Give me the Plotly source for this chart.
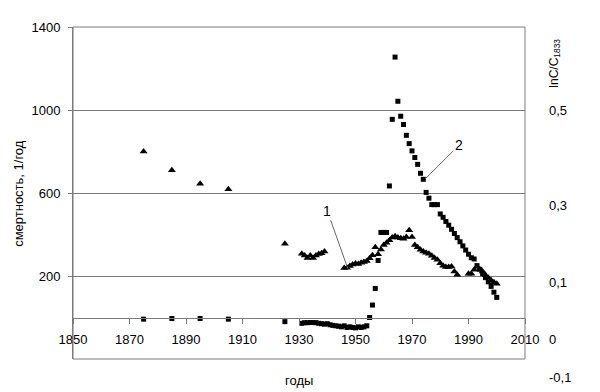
import plotly.graph_objects as go

# Series 1 (triangles)
years_1 = [1875, 1885, 1895, 1905, 1925,
           1931, 1932, 1933, 1934, 1935, 1936, 1937, 1938, 1939,
           1946, 1947, 1948, 1949, 1950, 1951, 1952, 1953, 1954, 1955, 1956, 1957, 1958, 1959,
           1960, 1961, 1962, 1963, 1964, 1965, 1966, 1967, 1968, 1969, 1970, 1971, 1972, 1973,
           1974, 1975, 1976, 1977, 1978, 1979, 1980, 1981, 1982, 1983, 1984, 1985, 1986,
           1990, 1991, 1992, 1993, 1994, 1995, 1996, 1997, 1998, 1999, 2000]
values_1 = [800, 710, 645, 618, 355,
            307, 299, 287, 299, 287, 299, 306, 310, 318,
            238, 240, 248, 255, 260, 258, 264, 268, 272, 285, 300, 338, 305, 328,
            350, 360, 372, 385, 392, 385, 382, 380, 388, 420, 388, 350, 339, 326,
            318, 312, 307, 298, 287, 278, 262, 250, 243, 243, 246, 222, 206,
            211, 211, 230, 245, 232, 222, 205, 192, 180, 170, 163]

# Series 2 (squares)
years_2 = [1875, 1885, 1895, 1905, 1925,
           1931, 1932, 1933, 1934, 1935, 1936, 1937, 1938, 1939, 1940, 1941, 1942, 1943, 1944,
           1945, 1946, 1947, 1948, 1949, 1950, 1951, 1952, 1953, 1954,
           1955, 1956, 1957, 1958, 1959, 1960, 1961, 1962, 1963, 1964, 1965, 1966, 1967, 1968,
           1969, 1970, 1971, 1972, 1973, 1974, 1975, 1976, 1977, 1978, 1979, 1980, 1981, 1982,
           1983, 1984, 1985, 1986, 1987, 1988, 1989, 1990, 1991, 1992, 1993, 1994, 1995, 1996,
           1997, 1998, 1999, 2000]
values_2 = [-8, -5, -5, -8, -20,
            -28, -25, -25, -24, -24, -25, -28, -30, -32, -30, -35, -38, -40, -42,
            -45, -40, -48, -45, -48, -50, -45, -48, -45, -40,
            0, 60, 140, 275, 410, 410, 410, 634, 955, 1255, 1042, 970, 930, 878,
            838, 803, 771, 738, 695, 666, 603, 575, 544, 544, 544, 499, 483, 463,
            445, 425, 405, 385, 365, 345, 325, 305, 288, 282, 250, 232, 212, 192,
            172, 150, 122, 97]

left_tick_vals = [200, 600, 1000, 1400]
x_tick_vals = [1850, 1870, 1890, 1910, 1930, 1950, 1970, 1990, 2010]
right_tick_labels = ["0,5", "0,3", "0,1", "0", "-0,1"]
right_tick_paper_y = [0.75, 0.461, 0.229, 0.060, -0.057]

FONT = "Liberation Sans, Arial, sans-serif"
GRID = "#7a7a7a"

fig = go.Figure()
fig.add_trace(go.Scatter(x=years_1, y=values_1, mode="markers",
                         marker=dict(symbol="triangle-up", size=7, color="black"),
                         showlegend=False))
fig.add_trace(go.Scatter(x=years_2, y=values_2, mode="markers",
                         marker=dict(symbol="square", size=5, color="black"),
                         showlegend=False))

fig.update_layout(
    width=600, height=392,
    margin=dict(l=73, r=75, t=27, b=33),
    paper_bgcolor="white", plot_bgcolor="white",
    font=dict(family=FONT, size=13, color="black"),
    xaxis=dict(range=[1850, 2010], tickvals=x_tick_vals, ticks="outside", ticklen=5,
               tickcolor=GRID, showgrid=False, zeroline=False, showline=True,
               linecolor=GRID, linewidth=1, anchor="free", position=(359 - 318) / 332,
               ticklabelstandoff=4, tickfont=dict(size=13)),
    yaxis=dict(range=[-200, 1400], tickvals=left_tick_vals, ticks="outside", ticklen=4,
               tickcolor=GRID, showgrid=True, gridcolor=GRID, gridwidth=1,
               zeroline=False, showline=True, linecolor=GRID, linewidth=1,
               ticklabelstandoff=5, tickfont=dict(size=13)),
)

# frame
fig.add_shape(type="rect", xref="paper", yref="paper", x0=0, x1=1, y0=0, y1=1,
              line=dict(color=GRID, width=1), fillcolor="rgba(0,0,0,0)")

# right-side labels
for lab, py in zip(right_tick_labels, right_tick_paper_y):
    fig.add_annotation(text=lab, xref="paper", yref="paper", x=1.0487, y=py,
                       xanchor="left", yanchor="middle", showarrow=False,
                       font=dict(size=13))

fig.add_annotation(text="lnC/C<sub>1833</sub>", xref="paper", yref="paper",
                   x=1.066, y=0.892, textangle=-90, showarrow=False,
                   xanchor="center", yanchor="middle", font=dict(size=12))
fig.add_annotation(text="смертность, 1/год", xref="paper", yref="paper",
                   x=-0.122, y=0.5, textangle=-90, showarrow=False,
                   xanchor="center", yanchor="middle", font=dict(size=13))
fig.add_annotation(text="годы", xref="paper", yref="paper", x=0.5, y=-0.066,
                   showarrow=False, xanchor="center", yanchor="middle",
                   font=dict(size=13))

# series labels with leader lines
fig.add_annotation(text="1", x=1947.3, y=235, ax=1940, ay=515, xref="x", yref="y",
                   axref="x", ayref="y", showarrow=True, arrowhead=0, arrowwidth=1,
                   arrowcolor="#666666", font=dict(size=14), standoff=0)
fig.add_annotation(text="2", x=1974.6, y=667, ax=1986.6, ay=830, xref="x", yref="y",
                   axref="x", ayref="y", showarrow=True, arrowhead=0, arrowwidth=1,
                   arrowcolor="#666666", font=dict(size=14), standoff=0)

fig.write_html("out.html")
